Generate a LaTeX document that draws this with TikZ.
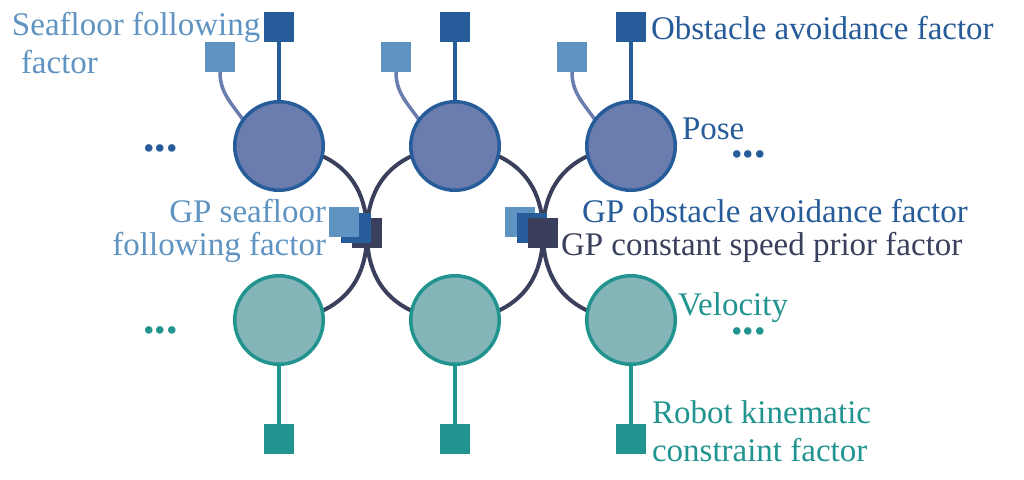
\documentclass[tikz,border=0pt]{standalone}
\usepackage{fontspec}
\setmainfont{Liberation Serif}
\definecolor{cLight}{HTML}{5F93C1}
\definecolor{cDark}{HTML}{265C99}
\definecolor{cPose}{HTML}{6B7DAE}
\definecolor{cTeal}{HTML}{21948F}
\definecolor{cVel}{HTML}{85B5B8}
\definecolor{cNavy}{HTML}{3A3F5C}
\pgfdeclarelayer{background}
\pgfsetlayers{background,main}
\begin{document}
\begin{tikzpicture}[x=1pt,y=1pt,
  pose/.style={circle, draw=cDark, fill=cPose, line width=3.5pt, minimum size=88.5pt, inner sep=0pt, outer sep=0pt},
  vel/.style={circle, draw=cTeal, fill=cVel, line width=3.5pt, minimum size=88.5pt, inner sep=0pt, outer sep=0pt},
  fac/.style={rectangle, minimum size=30pt, inner sep=0pt, outer sep=0pt},
  lbl/.style={inner sep=0pt, outer sep=0pt, font=\fontsize{33}{33}\selectfont},
  dotsx/.style={inner sep=0pt, outer sep=0pt, anchor=base west, text height=7pt, text depth=0pt, font=\fontsize{46}{46}\selectfont\bfseries},
  link/.style={line width=3.5pt},
  arcx/.style={line width=4pt, draw=cNavy}
]
\useasboundingbox (0,0) rectangle (1024,-479);
% variable and factor nodes
\foreach \i/\x in {1/279,2/455,3/631} {
  \node[pose] (p\i) at (\x,-146) {};
  \node[vel] (v\i) at (\x,-320) {};
  \node[fac, fill=cDark] (o\i) at (\x,-27) {};
  \node[fac, fill=cLight] (s\i) at (\x-59,-57) {};
  \node[fac, fill=cTeal] (k\i) at (\x,-439) {};
}
\coordinate (m1) at (367,-233);
\coordinate (m2) at (543,-233);
% connectors
\begin{pgfonlayer}{background}
\foreach \i in {1,2,3} {
  \draw[link, cDark] (o\i) -- (p\i);
  \draw[link, cPose] (s\i.south) to[out=-90,in=125] (p\i.144);
  \draw[link, cTeal] (v\i) -- (k\i);
}
\draw[arcx] (p1.-13) to[out=-25,in=90] (m1) to[out=-90,in=25] (v1.12);
\draw[arcx] (p2.193) to[out=205,in=90] (m1) to[out=-90,in=155] (v2.168);
\draw[arcx] (p2.-13) to[out=-25,in=90] (m2) to[out=-90,in=25] (v2.12);
\draw[arcx] (p3.193) to[out=205,in=90] (m2) to[out=-90,in=155] (v3.168);
\end{pgfonlayer}
% GP factors at crossings
\node[fac, fill=cNavy] (g1) at (m1) {};
\node[fac, fill=cDark] (a1) at (356,-228) {};
\node[fac, fill=cLight] (f1) at (344,-222) {};
\node[fac, fill=cLight] (f2) at (520,-222) {};
\node[fac, fill=cDark] (a2) at (532,-228) {};
\node[fac, fill=cNavy] (g2) at (m2) {};
% labels
\node[lbl, anchor=base west, text=cLight] (t1a) at (12,-35) {Seafloor following};
\node[lbl, anchor=base west, text=cLight] (t1b) at (21,-73) {factor};
\node[lbl, anchor=base west, text=cDark] (t2) at (651,-39) {Obstacle avoidance factor};
\node[lbl, anchor=base west, text=cDark] (t3) at (682,-139) {Pose};
\node[lbl, anchor=base east, text=cLight] (t4a) at (326,-222) {GP seafloor};
\node[lbl, anchor=base east, text=cLight] (t4b) at (326,-255) {following factor};
\node[lbl, anchor=base west, text=cDark] (t5) at (582,-222) {GP obstacle avoidance factor};
\node[lbl, anchor=base west, text=cNavy] (t6) at (561,-255) {GP constant speed prior factor};
\node[lbl, anchor=base west, text=cTeal] (t7) at (678,-315) {Velocity};
\node[lbl, anchor=base west, text=cTeal] (t8a) at (652,-423) {Robot kinematic};
\node[lbl, anchor=base west, text=cTeal] (t8b) at (652,-461) {constraint factor};
% ellipses
\node[dotsx, text=cDark] (d1) at (143,-151.5) {...};
\node[dotsx, text=cTeal] (d2) at (143,-333.5) {...};
\node[dotsx, text=cDark] (d3) at (731,-157.5) {...};
\node[dotsx, text=cTeal] (d4) at (731,-334.5) {...};
\end{tikzpicture}
\end{document}
